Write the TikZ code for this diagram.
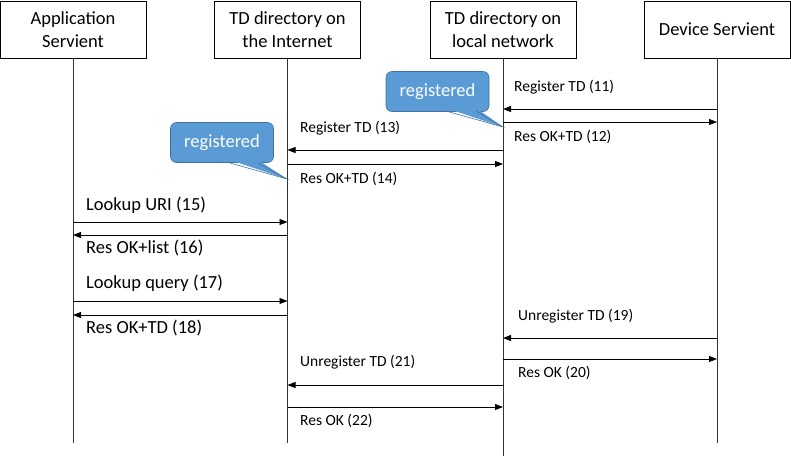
\documentclass[tikz,border=0pt]{standalone}
\usepackage{fontspec}
\setmainfont{Carlito}
\usetikzlibrary{arrows.meta}
\usetikzlibrary{calc}
\definecolor{callblue}{HTML}{5B9BD5}
\definecolor{callline}{HTML}{41719C}
\tikzset{
  party/.style={draw, line width=0.8pt, minimum width=146pt, minimum height=57pt, align=center, font=\fontsize{18.5}{22.5}\selectfont},
  life/.style={line width=0.8pt, black!80},
  msg/.style={line width=0.8pt, -{Triangle[length=8pt,width=6pt]}},
  lbl/.style={anchor=west, inner sep=0pt, font=\fontsize{15.5}{18}\selectfont},
  biglbl/.style={lbl, font=\fontsize{18.5}{22}\selectfont},
  bubble/.style={fill=callblue, draw=callline, line width=0.6pt, rounded corners=6pt, text=white, minimum width=103pt, minimum height=40pt, font=\fontsize{18.5}{22}\selectfont}
}
\begin{document}
\begin{tikzpicture}[x=1pt,y=-1pt]
\useasboundingbox (0,0) rectangle (791,456);
% the four parties
\node[party] (app) at (73,29.5) {Application\\Servient};
\node[party] (inet) at (287.5,29.5) {TD directory on\\the Internet};
\node[party] (lan) at (503,29.5) {TD directory on\\local network};
\node[party] (dev) at (717,29.5) {Device Servient};
\coordinate (bot) at (0,443);
\coordinate (edge) at (0,456);
% lifelines
\draw[life] (app.south) -- (app.south |- bot);
\draw[life] (inet.south) -- (inet.south |- bot);
\draw[life] (lan.south) -- (lan.south |- edge);
\draw[life] (dev.south) -- (dev.south |- bot);
% messages
\foreach \y/\a/\b in {109/dev/lan, 122/lan/dev, 150/lan/inet, 164/inet/lan,
    222/app/inet, 235/inet/app, 301/app/inet, 315/inet/app,
    338/dev/lan, 359/lan/dev, 385/lan/inet, 407/inet/lan}
  \draw[msg] (\a.south |- 0,\y) -- (\b.south |- 0,\y);
%     labels between the two directories and the device
\node[lbl] (t11) at (514,87) {Register TD (11)};
\node[lbl] (t12) at (514,137) {Res OK+TD (12)};
\node[lbl] (t19) at (518,316) {Unregister TD (19)};
\node[lbl] (t20) at (518,373) {Res OK (20)};
%     labels between the directories
\node[lbl] (t13) at (300,128) {Register TD (13)};
\node[lbl] (t14) at (300,179) {Res OK+TD (14)};
\node[lbl] (t21) at (300,362) {Unregister TD (21)};
\node[lbl] (t22) at (300,421) {Res OK (22)};
%     labels of the lookups
\node[biglbl] (t15) at (86,205) {Lookup URI (15)};
\node[biglbl] (t16) at (86,248) {Res OK+list (16)};
\node[biglbl] (t17) at (86,283) {Lookup query (17)};
\node[biglbl] (t18) at (86,328) {Res OK+TD (18)};
% the callouts
\node[bubble] (reg1) at (437.5,91.5) {registered};
\fill[callblue] (446,108) -- (503,127) -- (476,108) -- cycle;
\draw[callline, line width=0.6pt] (446,111) -- (503,127) -- (476,111);
\node[bubble] (reg2) at (222,142.5) {registered};
\fill[callblue] (230,160) -- (287,179) -- (258,160) -- cycle;
\draw[callline, line width=0.6pt] (230,163) -- (287,179) -- (258,163);
\end{tikzpicture}
\end{document}
